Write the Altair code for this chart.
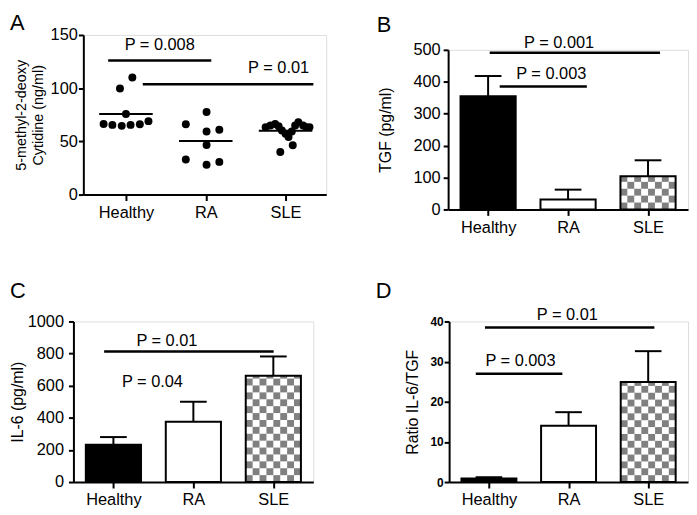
import json
import math
import pandas as pd
import altair as alt

FONT = "Liberation Sans"
FS = 16.5
GROUPS = ["Healthy", "RA", "SLE"]
LABEL_EXPR = json.dumps(GROUPS) + "[datum.value]"

# ---------------- Panel A: individual values (ng/ml) ----------------
A_HEALTHY = [110.0, 99.7, 75.7, 66.4, 65.5, 64.6, 65.5, 66.1, 69.0]
A_HEALTHY_SPREAD = [0.08, -0.075, 0.0, -0.28, -0.17, -0.053, 0.058, 0.174, 0.282]
A_RA = [77.6, 66.1, 59.3, 60.9, 46.6, 32.9, 30.7, 28.0]
A_RA_SPREAD = [0.01, -0.25, 0.01, 0.17, 0.01, -0.25, 0.17, 0.01]
A_SLE = [63.4, 64.9, 66.4, 64.3, 60.3, 57.1, 54.0, 59.3, 64.9, 68.0, 64.9, 63.4, 63.4, 40.0, 46.3]
A_SLE_SPREAD = [-0.25, -0.19, -0.13, -0.087, -0.046, 0.0, 0.037, 0.078, 0.12, 0.16, 0.22, 0.26, 0.3, -0.066, 0.09]
A_SIG_X1 = [-0.223, 0.211]
A_SIG_X2 = [1.069, 2.348]
A_SIG_Y = [126, 103.7]
A_TXT_X = [0.423, 1.913]
A_TXT_Y = [136.3, 114]
A_TXT = ["P = 0.008", "P = 0.01"]

# ---------------- Panel B: TGF (pg/ml) ----------------
B_MEAN = [355, 31, 104]
B_UPPER = [418, 62, 154]
B_SIG_X1 = [0.02, 0.145]
B_SIG_X2 = [2.15, 1.235]
B_SIG_Y = [490.7, 385]
B_TXT_X = [0.888, 0.79]
B_TXT_Y = [506, 410]
B_TXT = ["P = 0.001", "P = 0.003"]

# ---------------- Panel C: IL-6 (pg/ml) ----------------
C_MEAN = [232, 376, 662]
C_UPPER = [280, 500, 782]
C_SIG_X1 = [-0.116]
C_SIG_X2 = [2.004]
C_SIG_Y = [813]
C_TXT_X = [0.669, 0.488]
C_TXT_Y = [846, 589]
C_TXT = ["P = 0.01", "P = 0.04"]

# ---------------- Panel D: ratio IL-6/TGF ----------------
D_MEAN = [0.9, 14.0, 24.9]
D_UPPER = [1.2, 17.4, 32.6]
D_SIG_X1 = [-0.05, -0.165]
D_SIG_X2 = [2.078, 0.922]
D_SIG_Y = [38.5, 27.0]
D_TXT_X = [0.984, 0.396]
D_TXT_Y = [40.4, 28.9]
D_TXT = ["P = 0.01", "P = 0.003"]


def x_axis():
    return alt.Axis(values=[0, 1, 2], labelExpr=LABEL_EXPR, title=None, grid=False,
                    domainColor="black", domainWidth=2, tickColor="black", tickWidth=2,
                    tickSize=6, labelPadding=4, labelFont=FONT, labelFontSize=FS,
                    labelColor="black", labelFlush=False, labelOverlap=False, labelAngle=0)


def y_axis(values, title, title_x, label_pad, title_size=16, label_size=FS,
           label_weight="normal", line_height=17):
    return alt.Axis(values=values, title=title, titleX=title_x, titleAngle=270,
                    titleAlign="center", titleBaseline="bottom", titleFont=FONT,
                    titleFontSize=title_size, titleFontWeight="normal", titleColor="black",
                    titleLineHeight=line_height, grid=False, format="d",
                    domainColor="black", domainWidth=2, tickColor="black", tickWidth=2,
                    tickSize=5, labelPadding=label_pad, labelFont=FONT,
                    labelFontSize=label_size, labelFontWeight=label_weight,
                    labelColor="black", labelFlush=False, labelOverlap=False)


def letter_layer(letter, lx, ly):
    return alt.Chart(pd.DataFrame({"t": [letter]})).mark_text(
        align="left", baseline="alphabetic", font=FONT, fontSize=22, color="black"
    ).encode(x=alt.value(lx), y=alt.value(ly), text="t:N")


def sig_layers(X, Y, x1, x2, y, tx, ty, txt):
    lines = alt.Chart(pd.DataFrame({"x1": x1, "x2": x2, "y": y})).mark_rule(
        color="black", strokeWidth=2.5
    ).encode(x=X("x1"), x2="x2", y=Y("y"))
    texts = alt.Chart(pd.DataFrame({"x": tx, "y": ty, "label": txt})).mark_text(
        font=FONT, fontSize=FS, color="black", align="center", baseline="alphabetic"
    ).encode(x=X("x"), y=Y("y"), text="label:N")
    return lines, texts


def bar_panel(letter, lpos, means, uppers, ymax, yticks, ytitle, width, height,
              title_x, label_pad, sig, label_size=FS, label_weight="normal"):
    hw = 0.345
    bars = pd.DataFrame({"group": GROUPS, "i": [0, 1, 2], "mean": means, "upper": uppers})
    bars["x1"] = bars["i"] - hw
    bars["x2"] = bars["i"] + hw
    bars["c1"] = bars["i"] - 0.167
    bars["c2"] = bars["i"] + 0.167
    bars["zero"] = 0.0

    xs = alt.Scale(domain=[-0.5, 2.5], nice=False, zero=False)
    ys = alt.Scale(domain=[0, ymax], nice=False)
    xa = x_axis()
    ya = y_axis(yticks, ytitle, title_x, label_pad, label_size=label_size,
                label_weight=label_weight)

    def X(f):
        return alt.X(f"{f}:Q", scale=xs, axis=xa)

    def Y(f):
        return alt.Y(f"{f}:Q", scale=ys, axis=ya)

    base = alt.Chart(bars)
    fill = base.mark_rect().encode(
        x=X("x1"), x2="x2", y=Y("zero"), y2="mean",
        fill=alt.Fill("group:N", scale=alt.Scale(domain=GROUPS, range=["black", "white", "white"]),
                      legend=None))

    # checkerboard pattern of the SLE bar (decoration only)
    ncol = 8
    cw = 2 * hw / ncol
    cell_px = cw * width / 3.0
    ch = cell_px / (height / ymax)
    sle_i, sle_v = 2, means[2]
    cells = []
    for r in range(int(math.ceil(sle_v / ch))):
        for c in range(ncol):
            if (r + c) % 2 == 0:
                cells.append({"cx1": sle_i - hw + c * cw, "cx2": sle_i - hw + (c + 1) * cw,
                              "cy1": r * ch, "cy2": min((r + 1) * ch, sle_v)})
    checker = alt.Chart(pd.DataFrame(cells)).mark_rect(color="#808080").encode(
        x=X("cx1"), x2="cx2", y=Y("cy1"), y2="cy2")

    outline = base.mark_rect(fillOpacity=0, stroke="black", strokeWidth=2).encode(
        x=X("x1"), x2="x2", y=Y("zero"), y2="mean")
    err = base.mark_rule(color="black", strokeWidth=2).encode(x=X("i"), y=Y("mean"), y2="upper")
    caps = base.mark_rule(color="black", strokeWidth=2).encode(x=X("c1"), x2="c2", y=Y("upper"))
    lines, texts = sig_layers(X, Y, *sig)
    return alt.layer(fill, checker, outline, err, caps, lines, texts,
                     letter_layer(letter, *lpos)).properties(width=width, height=height)


def scatter_panel():
    rows = []
    for i, (vals, offs) in enumerate([(A_HEALTHY, A_HEALTHY_SPREAD), (A_RA, A_RA_SPREAD),
                                      (A_SLE, A_SLE_SPREAD)]):
        for v, o in zip(vals, offs):
            rows.append({"group": GROUPS[i], "i": i, "value": v, "xpos": i + o})
    pts = pd.DataFrame(rows)
    xs = alt.Scale(domain=[-0.534, 2.509], nice=False, zero=False)
    ys = alt.Scale(domain=[0, 150], nice=False)
    xa = x_axis()
    ya = y_axis([0, 50, 100, 150], ["5-methyl-2-deoxy", "Cytidine (ng/ml)"], -55, 1,
                title_size=14.5)

    def X(f):
        return alt.X(f"{f}:Q", scale=xs, axis=xa)

    def Y(f):
        return alt.Y(f"{f}:Q", scale=ys, axis=ya)

    dots = alt.Chart(pts).mark_circle(size=64, color="black", opacity=1).encode(
        x=X("xpos"), y=Y("value"))
    means = alt.Chart(pts).mark_tick(orient="horizontal", size=54, thickness=2,
                                     color="black", opacity=1).encode(
        x=X("i"), y=alt.Y("mean(value):Q", scale=ys, axis=ya))
    lines, texts = sig_layers(X, Y, A_SIG_X1, A_SIG_X2, A_SIG_Y, A_TXT_X, A_TXT_Y, A_TXT)
    return alt.layer(dots, means, lines, texts, letter_layer("A", -74, -5)).properties(
        width=245, height=161)


def spacer(w, h):
    return alt.Chart(pd.DataFrame({"s": [0]})).mark_point(opacity=0, size=0).properties(
        width=w, height=h)


panel_a = scatter_panel()
panel_b = bar_panel("B", (-72, -18), B_MEAN, B_UPPER, 500, [0, 100, 200, 300, 400, 500],
                    "TGF (pg/ml)", 242, 161, -55, 3,
                    (B_SIG_X1, B_SIG_X2, B_SIG_Y, B_TXT_X, B_TXT_Y, B_TXT))
panel_c = bar_panel("C", (-64, -24), C_MEAN, C_UPPER, 1000, [0, 200, 400, 600, 800, 1000],
                    "IL-6 (pg/ml)", 242, 162, -48, 5,
                    (C_SIG_X1, C_SIG_X2, C_SIG_Y, C_TXT_X, C_TXT_Y, C_TXT))
panel_d = bar_panel("D", (-74, -24), D_MEAN, D_UPPER, 40, [0, 10, 20, 30, 40],
                    "Ratio IL-6/TGF", 241, 162, -29, 1,
                    (D_SIG_X1, D_SIG_X2, D_SIG_Y, D_TXT_X, D_TXT_Y, D_TXT),
                    label_size=12, label_weight="bold")

col_a = alt.vconcat(spacer(1, 1), panel_a, spacing=0)
col_b = alt.vconcat(spacer(1, 3), panel_b, spacing=0)
row1 = alt.hconcat(spacer(1, 1), col_a, spacer(49, 1), col_b, spacing=0)
row2 = alt.hconcat(spacer(1, 1), panel_c, spacer(61, 1), panel_d, spacing=0)

chart = alt.vconcat(row1, row2, spacing=43).properties(padding=0).configure_view(
    strokeWidth=0).configure(background="white")

chart.save("out.html", embed_options={"renderer": "svg", "actions": False})
